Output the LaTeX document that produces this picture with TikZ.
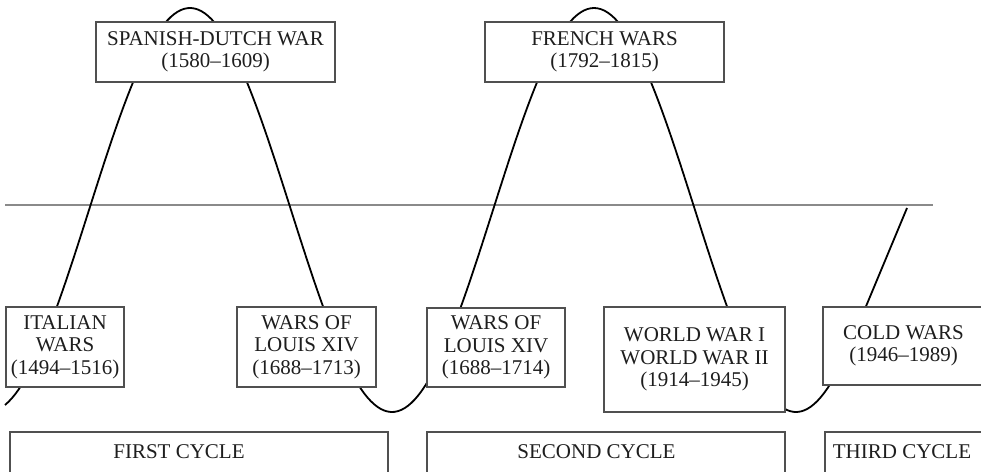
\documentclass[tikz,border=0pt]{standalone}
\usepackage{fontspec}
\setmainfont{Liberation Serif}
\definecolor{boxgray}{HTML}{505050}
\definecolor{textc}{HTML}{1E1E1E}
\definecolor{linegray}{HTML}{8A8A8A}
\begin{document}
\begin{tikzpicture}[x=1pt,y=-1pt,
  box/.style={draw=boxgray, line width=1.3pt, fill=white, inner sep=0pt, align=center,
    font=\fontsize{21}{22.5}\selectfont, text=textc},
  lbl/.style={inner sep=0pt, font=\fontsize{21}{22.5}\selectfont, text=textc},
  cyc/.style={draw=boxgray, line width=1.3pt, fill=white},
  wave/.style={draw=black, line width=1.8pt},
  midline/.style={draw=linegray, line width=1.5pt}]
\useasboundingbox (0,0) rectangle (981,471);
\clip (0,0) rectangle (981,471);
% horizontal line
\draw[midline] (5,205) -- (933,205);
% the wave
\coordinate (wend) at (907,208);
\draw[wave, line join=round] plot[domain=5:848, samples=250] (\x, {210-202*cos((\x-190)*0.891089)}) -- (wend);
% war boxes
\node[box, minimum width=239pt, minimum height=60pt] (spanish) at (215.5,52) {SPANISH-DUTCH WAR\\(1580–1609)};
\node[box, minimum width=239pt, minimum height=60pt] (french) at (604.5,52) {FRENCH WARS\\(1792–1815)};
\node[box, minimum width=118pt, minimum height=80pt] (italian) at (65,347) {ITALIAN\\WARS\\(1494–1516)};
\node[box, minimum width=139pt, minimum height=80pt] (louisA) at (306.5,347) {WARS OF\\LOUIS XIV\\(1688–1713)};
\node[box, minimum width=138pt, minimum height=79pt] (louisB) at (496,347.5) {WARS OF\\LOUIS XIV\\(1688–1714)};
\node[box, minimum width=181pt, minimum height=105pt] (world) at (694.5,359.5) {WORLD WAR I\\WORLD WAR II\\(1914–1945)};
\node[box, minimum width=161pt, minimum height=78pt] (cold) at (903.5,346) {COLD WARS\\(1946–1989)};
% cycle boxes
\draw[cyc] (10,432) rectangle (388,495);
\node[lbl] (first) at (179,452) {FIRST CYCLE};
\draw[cyc] (427,432) rectangle (785,495);
\node[lbl] (second) at (596.5,452) {SECOND CYCLE};
\draw[cyc] (825,432) rectangle (984,495);
\node[lbl] (third) at (902,452) {THIRD CYCLE};
\end{tikzpicture}
\end{document}
